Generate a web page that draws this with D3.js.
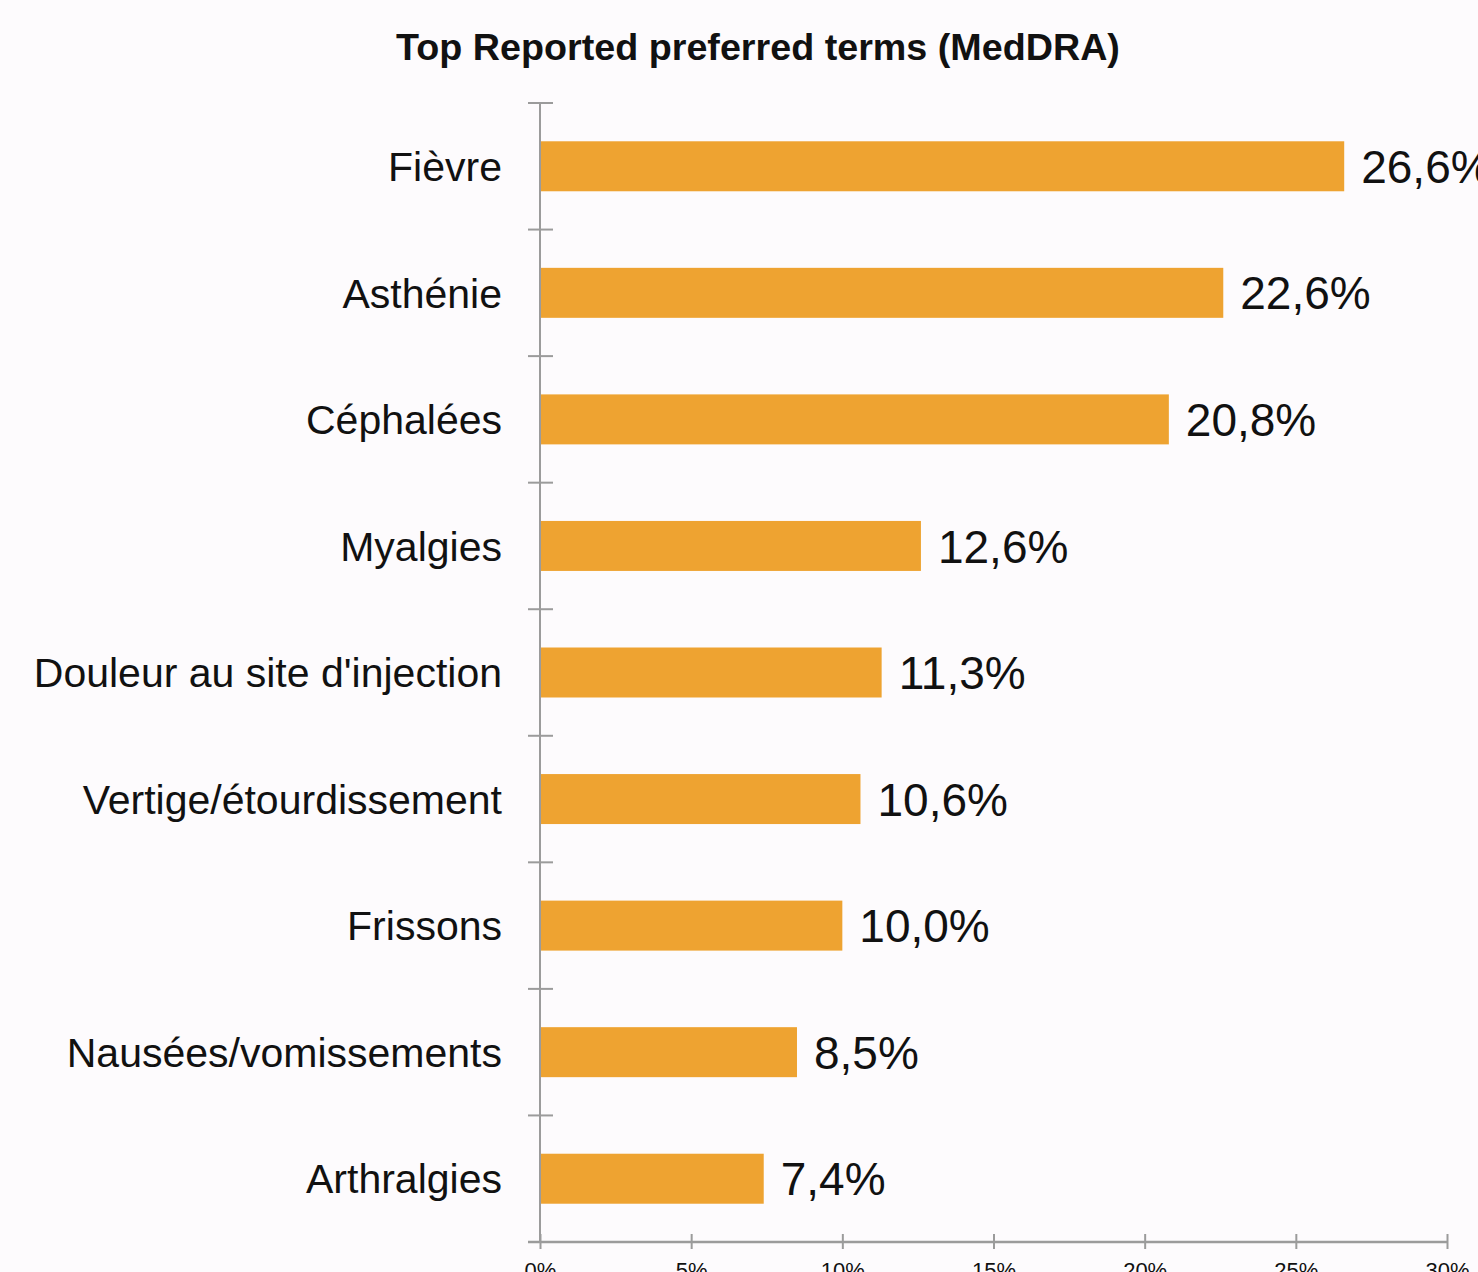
<!DOCTYPE html>
<html>
<head>
<meta charset="utf-8">
<script src="https://cdn.jsdelivr.net/npm/d3@7"></script>
<style>
  html, body { margin: 0; padding: 0; background: #fdfbfd; }
  svg { display: block; }
  text { font-family: "Liberation Sans", Arial, sans-serif; fill: #111; }
</style>
</head>
<body>
<svg id="chart" width="1478" height="1272"></svg>
<script>
const title = "Top Reported preferred terms (MedDRA)";
const categories = ["Fièvre", "Asthénie", "Céphalées", "Myalgies", "Douleur au site d'injection",
  "Vertige/étourdissement", "Frissons", "Nausées/vomissements", "Arthralgies"];
const values = [26.6, 22.6, 20.8, 12.6, 11.3, 10.6, 10.0, 8.5, 7.4];
const xTicks = [0, 5, 10, 15, 20, 25, 30];

const svg = d3.select("#chart");
svg.append("rect").attr("width", 1478).attr("height", 1272).attr("fill", "#fdfbfd");

const x = d3.scaleLinear().domain([0, 30]).range([540, 1447]);
const y = d3.scaleBand().domain(categories).range([103, 1242]).paddingInner(0.605).paddingOuter(0.3025);

const axisColor = "#9b9b9b";

// Title
svg.append("text").attr("x", 758).attr("y", 60).attr("text-anchor", "middle")
  .style("font-size", "37.7px").style("font-weight", "bold").text(title);

// Bars
svg.selectAll("rect.bar").data(categories).enter().append("rect").attr("class", "bar")
  .attr("x", x(0)).attr("y", d => y(d))
  .attr("width", (d, i) => x(values[i]) - x(0))
  .attr("height", y.bandwidth())
  .attr("fill", "#eea331");

// Value labels
svg.selectAll("text.val").data(categories).enter().append("text").attr("class", "val")
  .attr("x", (d, i) => x(values[i]) + 17)
  .attr("y", d => y(d) + y.bandwidth() / 2)
  .attr("dy", "0.36em")
  .style("font-size", "46px")
  .text((d, i) => values[i].toFixed(1).replace(".", ",") + "%");

// Category labels
svg.selectAll("text.cat").data(categories).enter().append("text").attr("class", "cat")
  .attr("x", 502)
  .attr("y", d => y(d) + y.bandwidth() / 2)
  .attr("dy", "0.36em")
  .attr("text-anchor", "end")
  .style("font-size", "41px")
  .text(d => d);

// Y axis line and ticks at band boundaries
const g = svg.append("g");
g.append("line").attr("x1", 540).attr("x2", 540).attr("y1", y.range()[0]).attr("y2", y.range()[1])
  .attr("stroke", axisColor).attr("stroke-width", 2);
const bounds = d3.range(categories.length).map(i => y.range()[0] + i * y.step());
g.selectAll("line.yt").data(bounds).enter().append("line").attr("class", "yt")
  .attr("x1", 528).attr("x2", 553).attr("y1", d => d).attr("y2", d => d)
  .attr("stroke", axisColor).attr("stroke-width", 2);

// X axis
const xAxis = d3.axisBottom(x).tickValues(xTicks).tickFormat(d => d + "%").tickSize(0).tickPadding(0);
const gx = svg.append("g").attr("transform", "translate(0,1242)").call(xAxis);
gx.select(".domain").remove();
gx.append("line").attr("x1", 528).attr("x2", x(30)).attr("y1", 0).attr("y2", 0)
  .attr("stroke", axisColor).attr("stroke-width", 2.5);
gx.selectAll(".tick").append("line").attr("y1", -8).attr("y2", 7)
  .attr("stroke", axisColor).attr("stroke-width", 2);
gx.selectAll(".tick text").attr("y", 36).attr("dy", 0)
  .style("font-size", "22px").style("font-family", "Liberation Sans, Arial, sans-serif").attr("fill", "#111");
</script>
</body>
</html>
